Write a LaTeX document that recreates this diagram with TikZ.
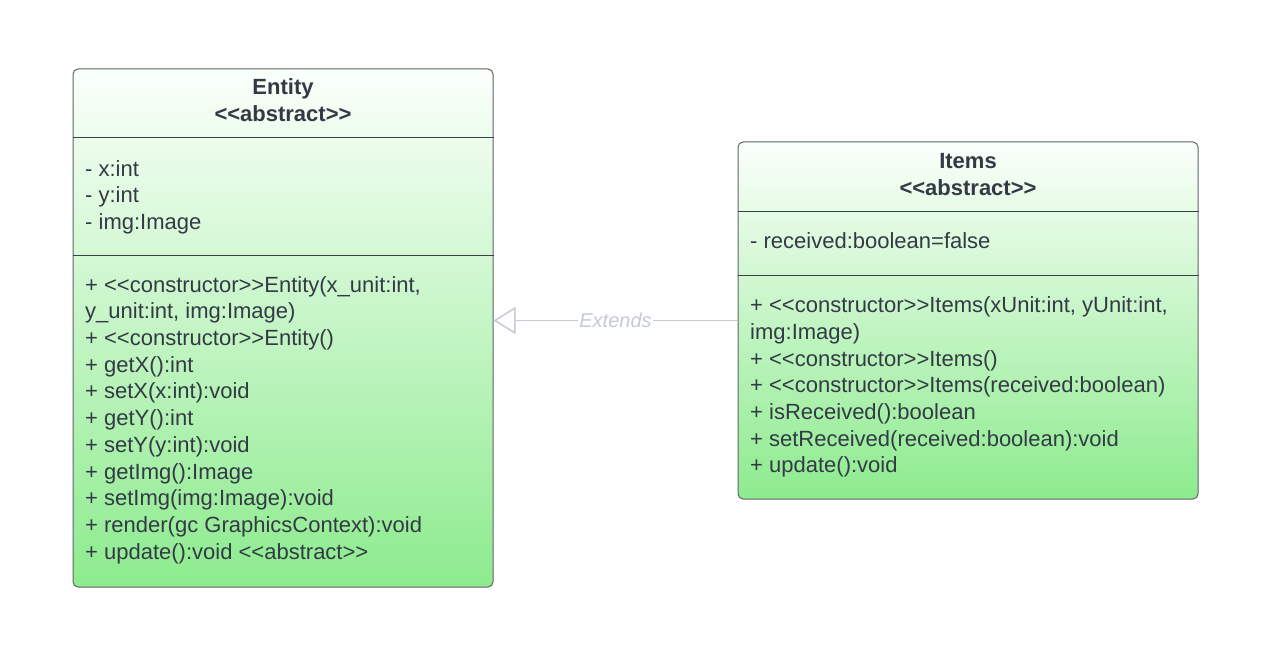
\documentclass[tikz,border=0pt]{standalone}
\usepackage{fontspec}
\setmainfont{Liberation Sans}
\usetikzlibrary{arrows.meta,calc}
\definecolor{txt}{HTML}{333A45}
\definecolor{bord}{HTML}{5F6368}
\definecolor{sep}{HTML}{3A4048}
\definecolor{gtop}{HTML}{FBFFFB}
\definecolor{gbot}{HTML}{8DEB8E}
\definecolor{conn}{HTML}{C5CAD3}
\newcommand\stereo[1]{<\kern0pt<#1>\kern0pt>}
\begin{document}
\begin{tikzpicture}[x=1pt,y=-1pt,
  classbox/.style={draw=bord,line width=1pt,rounded corners=5pt,top color=gtop,bottom color=gbot,inner sep=0pt},
  sepline/.style={draw=sep,line width=1pt},
  title/.style={text=txt,font=\fontsize{22}{25}\selectfont\bfseries,anchor=base,inner sep=0pt},
  member/.style={text=txt,font=\fontsize{22}{25}\selectfont,anchor=base west,inner sep=0pt},
  ext/.style={draw=conn,line width=1.5pt,-{Triangle[open,length=22pt,width=27pt,fill=white]}},
  extlabel/.style={text=conn,fill=white,font=\fontsize{20}{24}\selectfont\itshape,inner sep=1pt}]
\useasboundingbox (0,0) rectangle (1285,650);
% Entity
\node[classbox,minimum width=420pt,minimum height=518pt] (entity) at (283,328) {};
\draw[sepline] (entity.west |- 0,138) -- (entity.east |- 0,138);
\draw[sepline] (entity.west |- 0,255) -- (entity.east |- 0,255);
\node[title] (e1) at (283,95) {Entity};
\node[title] (e2) at (283,122) {\stereo{abstract}};
\node[member] (ea1) at (85,176) {- x:int};
\node[member] (ea2) at (85,202.5) {- y:int};
\node[member] (ea3) at (85,229) {- img:Image};
\node[member] (em1) at (85,292) {+ \stereo{constructor}Entity(x\_unit:int,};
\node[member] (em2) at (85,318.5) {y\_unit:int, img:Image)};
\node[member] (em3) at (85,345.5) {+ \stereo{constructor}Entity()};
\node[member] (em4) at (85,372) {+ getX():int};
\node[member] (em5) at (85,398.5) {+ setX(x:int):void};
\node[member] (em6) at (85,425.5) {+ getY():int};
\node[member] (em7) at (85,452.5) {+ setY(y:int):void};
\node[member] (em8) at (85,479) {+ getImg():Image};
\node[member] (em9) at (85,505.5) {+ setImg(img:Image):void};
\node[member] (em10) at (85,532.5) {+ render(gc GraphicsContext):void};
\node[member] (em11) at (85,559) {+ update():void \stereo{abstract}};
% Items
\node[classbox,minimum width=460pt,minimum height=357pt] (items) at (968,320.5) {};
\draw[sepline] (items.west |- 0,211) -- (items.east |- 0,211);
\draw[sepline] (items.west |- 0,275) -- (items.east |- 0,275);
\node[title] (i1) at (968,168) {Items};
\node[title] (i2) at (968,195) {\stereo{abstract}};
\node[member] (ia1) at (750,248) {- received:boolean=false};
\node[member] (im1) at (750,312.5) {+ \stereo{constructor}Items(xUnit:int, yUnit:int,};
\node[member] (im2) at (750,339) {img:Image)};
\node[member] (im3) at (750,366) {+ \stereo{constructor}Items()};
\node[member] (im4) at (750,392.5) {+ \stereo{constructor}Items(received:boolean)};
\node[member] (im5) at (750,419) {+ isReceived():boolean};
\node[member] (im6) at (750,446) {+ setReceived(received:boolean):void};
\node[member] (im7) at (750,472.5) {+ update():void};
% connector
\draw[ext] (items.west) -- (items.west -| entity.east) node[extlabel,pos=0.5] (extl) {Extends};
\end{tikzpicture}
\end{document}
